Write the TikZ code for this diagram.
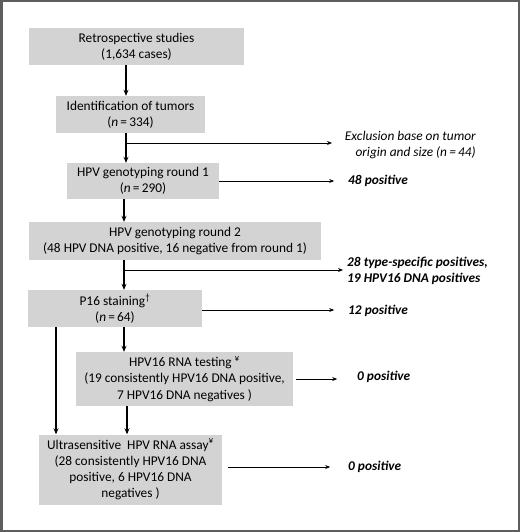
\documentclass[tikz,border=0pt]{standalone}
\usepackage{fontspec}
\setmainfont{Carlito}
\usetikzlibrary{arrows.meta}
\definecolor{boxgray}{HTML}{D3D3D3}
\definecolor{framegray}{HTML}{5E5E5E}
\tikzset{
  stepbox/.style={fill=boxgray, draw=none, inner sep=0pt, align=center,
    font=\fontsize{13.4}{16.3}\selectfont},
  arr/.style={line width=1.3pt, -{Stealth[length=6pt,width=5pt]}},
  side/.style={line width=0.8pt, -{Stealth[length=5pt,width=4pt]}},
  res/.style={inner sep=0pt, anchor=west, align=left,
    font=\fontsize{13.4}{16.3}\selectfont\bfseries\itshape},
}
\begin{document}
\begin{tikzpicture}[x=1bp,y=-1bp]
\useasboundingbox (0,0) rectangle (520,532);
\draw[framegray, line width=2.5bp] (1.25,1.25) rectangle (518.75,530.75);

\node[stepbox, minimum width=215bp, minimum height=37bp] (b1) at (136.5,46.5)
  {Retrospective studies\\(1,634 cases)};
\node[stepbox, minimum width=149bp, minimum height=37bp] (b2) at (130.5,114.5)
  {Identification of tumors\\(\textit{n}\,=\,334)};
\node[stepbox, minimum width=152bp, minimum height=36bp] (b3) at (143,181)
  {HPV genotyping round 1\\(\textit{n}\,=\,290)};
\node[stepbox, minimum width=292bp, minimum height=38bp] (b4) at (175,241)
  {HPV genotyping round 2\\(48 HPV DNA positive, 16 negative from round 1)};
\node[stepbox, minimum width=174bp, minimum height=37bp] (b5) at (115,308.5)
  {P16 staining\textsuperscript{\dag}\\(\textit{n}\,=\,64)};
\node[stepbox, minimum width=217bp, minimum height=54bp] (b6) at (184.5,379)
  {HPV16 RNA testing \textsuperscript{¥}\\(19 consistently HPV16 DNA positive,\\7 HPV16 DNA negatives )};
\node[stepbox, minimum width=183bp, minimum height=70bp] (b7) at (130.5,469.5)
  {Ultrasensitive\ \ HPV RNA assay\textsuperscript{¥}\\(28 consistently HPV16 DNA\\positive, 6 HPV16 DNA\\negatives )};

% right-hand results
\node[inner sep=0pt, align=right, anchor=north east,
  font=\fontsize{13.4}{16.3}\selectfont\itshape] (excl) at (476,131)
  {Exclusion base on tumor\\origin and size (\textit{n}\,=\,44)};
\node[res] (r1) at (348,181) {48 positive};
\node[res] (r2) at (347,271) {28 type-specific positives,\\19 HPV16 DNA positives};
\node[res] (r3) at (348,311) {12 positive};
\node[res] (r4) at (357,377) {0 positive};
\node[res] (r5) at (348,467) {0 positive};

% coordinates
\coordinate (xa) at (126,0);
\coordinate (xb) at (124,0);
\coordinate (xc) at (56,0);
\coordinate (xd) at (127,0);
\coordinate (j1) at (126,143);
\coordinate (e1) at (332,143);
\coordinate (j2) at (124,270);
\coordinate (e2) at (343,270);

% main flow
\draw[arr] (b1.south -| xa) -- (b2.north -| xa);
\draw[arr] (b2.south -| xa) -- (b3.north -| xa);
\draw[arr] (b3.south -| xb) -- (b4.north -| xb);
\draw[arr] (b4.south -| xb) -- (b5.north -| xb);
\draw[arr] (b5.south -| xb) -- (b6.north -| xb);
\draw[arr] (b5.south -| xc) -- (b7.north -| xc);
\draw[arr] (b6.south -| xd) -- (b7.north -| xd);

% side branches
\draw[side] (j1) -- (e1);
\draw[side] (j2) -- (e2);
\draw[side] (b3.east) -- ++(115,0) coordinate (e3);
\draw[side] (b5.east) ++(0,1.5) -- ++(132,0) coordinate (e4);
\draw[side] ([xshift=3bp]b6.east) -- ++(41,0) coordinate (e5);
\draw[side] ([xshift=6bp]b7.east |- r5) -- ++(102,0) coordinate (e6);
\end{tikzpicture}
\end{document}
